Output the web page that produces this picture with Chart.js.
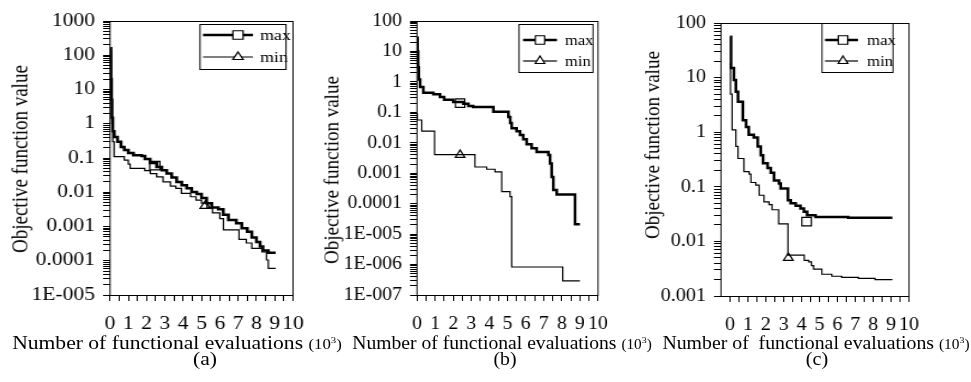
<!DOCTYPE html>
<html>
<head>
<meta charset="utf-8">
<script src="https://cdn.jsdelivr.net/npm/chart.js@4.4.0/dist/chart.umd.min.js"></script>
<style>
  html, body { margin: 0; padding: 0; background: #fff; }
  #wrap { position: relative; width: 971px; height: 382px; overflow: hidden;
          font-family: "Liberation Serif", "Times New Roman", serif; color: #000; }
  canvas { position: absolute; top: 0; height: 382px; }
  .txt { position: absolute; white-space: pre; font-size: 18px; line-height: 1; }
  .yt { font-size: 19px; }
  .sm { font-size: 14px; }
  .sm sup { font-size: 9px; }
</style>
</head>
<body>
<div id="wrap">
  <canvas id="chartA" height="382"></canvas>
  <canvas id="chartB" height="382"></canvas>
  <canvas id="chartC" height="382"></canvas>

  <!-- the source figure is stretched sideways, so the text is too -->
  <div class="txt yt" style="left:20px; top:159px; transform: translate(-50%, -50%) scaleX(1.2) rotate(-90deg)">Objective function value</div>
  <div class="txt yt" style="left:331px; top:170px; transform: translate(-50%, -50%) scaleX(1.1) rotate(-90deg)">Objective function value</div>
  <div class="txt yt" style="left:652px; top:145px; transform: translate(-50%, -50%) scaleX(1.12) rotate(-90deg)">Objective function value</div>

  <div class="txt" style="left:177px; top:343px; transform: translate(-50%, -50%) scaleX(1.2)">Number of functional evaluations <span class="sm">(10<sup>3</sup>)</span></div>
  <div class="txt" style="left:502px; top:343px; transform: translate(-50%, -50%) scaleX(1.09)">Number of functional evaluations <span class="sm">(10<sup>3</sup>)</span></div>
  <div class="txt" style="left:816px; top:343px; transform: translate(-50%, -50%) scaleX(1.1)">Number of  functional evaluations <span class="sm">(10<sup>3</sup>)</span></div>

  <div class="txt" style="left:205px; top:359px; transform: translate(-50%, -50%) scaleX(1.2)">(a)</div>
  <div class="txt" style="left:505px; top:359px; transform: translate(-50%, -50%) scaleX(1.1)">(b)</div>
  <div class="txt" style="left:817px; top:359px; transform: translate(-50%, -50%) scaleX(1.12)">(c)</div>
</div>

<script>
// x axis labels (thousands of evaluations), minor ticks at the halves
const xTickLabels = ['0', '1', '2', '3', '4', '5', '6', '7', '8', '9', '10'];

// y axis decades and their labels
const yMajorA = [1e-5, 1e-4, 1e-3, 0.01, 0.1, 1, 10, 100, 1000];
const yLabelsA = ['1E-005', '0.0001', '0.001', '0.01', '0.1', '1', '10', '100', '1000'];
const yMajorB = [1e-7, 1e-6, 1e-5, 1e-4, 1e-3, 0.01, 0.1, 1, 10, 100];
const yLabelsB = ['1E-007', '1E-006', '1E-005', '0.0001', '0.001', '0.01', '0.1', '1', '10', '100'];
const yMajorC = [0.001, 0.01, 0.1, 1, 10, 100];
const yLabelsC = ['0.001', '0.01', '0.1', '1', '10', '100'];

// (a)
const aMaxX = [0.02, 0.05, 0.08, 0.11, 0.15, 0.23, 0.41, 0.6, 0.78, 1.0, 1.28, 1.73, 1.91, 2.19, 2.55, 2.83, 3.1, 3.37, 3.64, 3.92, 4.19, 4.46, 4.74, 5.0, 5.28, 5.56, 5.92, 6.19, 6.47, 6.9, 7.2, 7.5, 7.75, 8.0, 8.2, 8.36, 8.65, 9.05];
const aMaxY = [160, 20, 5, 1.5, 0.6, 0.41, 0.3, 0.21, 0.17, 0.14, 0.12, 0.115, 0.093, 0.072, 0.055, 0.044, 0.035, 0.027, 0.02, 0.016, 0.013, 0.0102, 0.0089, 0.0068, 0.0048, 0.0036, 0.0032, 0.0022, 0.00155, 0.00125, 0.00089, 0.0007, 0.00048, 0.00035, 0.00026, 0.0002, 0.00017, 0.00017];
const aMinX = [0.01, 0.05, 0.1, 0.15, 0.22, 0.78, 1.0, 1.1, 1.9, 2.2, 2.55, 2.9, 3.3, 3.6, 3.9, 4.4, 4.7, 5.0, 5.3, 5.6, 6.0, 6.2, 7.05, 7.45, 7.75, 8.3, 8.55, 8.65, 9.05];
const aMinY = [120, 10, 1, 0.3, 0.11, 0.087, 0.066, 0.05, 0.043, 0.035, 0.028, 0.02, 0.015, 0.013, 0.0093, 0.0074, 0.0059, 0.0048, 0.0035, 0.0025, 0.0017, 0.0008, 0.00042, 0.00033, 0.00023, 0.00018, 0.000105, 0.00006, 0.00006];
const aMaxMark = [2.45, 0.06];
const aMinMark = [5.2, 0.004];

// (b)
const bMaxX = [0.0, 0.03, 0.06, 0.1, 0.17, 0.35, 0.9, 1.27, 1.5, 2.0, 2.56, 2.84, 3.1, 4.22, 5.05, 5.15, 5.23, 5.5, 5.69, 5.87, 6.06, 6.33, 6.61, 7.26, 7.35, 7.44, 7.53, 7.72, 8.73, 9.0];
const bMaxY = [28, 10, 3, 1.2, 0.68, 0.44, 0.39, 0.32, 0.26, 0.22, 0.19, 0.16, 0.15, 0.105, 0.07, 0.045, 0.03, 0.024, 0.018, 0.013, 0.009, 0.0066, 0.005, 0.004, 0.0021, 0.00075, 0.00028, 0.0002, 0.000021, 0.000021];
const bMinX = [0.0, 0.02, 0.26, 0.97, 3.2, 3.85, 4.31, 4.68, 5.14, 5.23, 8.05, 9.0];
const bMinY = [0.09, 0.056, 0.024, 0.0041, 0.0016, 0.00135, 0.0011, 0.00025, 0.00017, 8.3e-7, 2.9e-7, 2.9e-7];
const bMaxMark = [2.38, 0.2];
const bMinMark = [2.38, 0.004];

// (c)
const cMaxX = [0.0, 0.06, 0.22, 0.33, 0.45, 0.72, 0.9, 1.05, 1.33, 1.55, 1.72, 1.85, 2.1, 2.28, 2.46, 2.74, 2.83, 3.24, 3.39, 3.67, 3.94, 4.13, 4.31, 4.78, 6.6, 9.07];
const cMaxY = [56, 15, 9, 5.5, 3.6, 1.66, 1.25, 0.9, 0.8, 0.55, 0.38, 0.27, 0.22, 0.18, 0.13, 0.115, 0.093, 0.057, 0.05, 0.045, 0.04, 0.035, 0.03, 0.028, 0.027, 0.027];
const cMinX = [0.0, 0.03, 0.12, 0.33, 0.45, 0.78, 1.07, 1.17, 1.44, 1.63, 1.9, 2.18, 2.35, 2.72, 3.24, 4.15, 4.4, 4.55, 4.67, 5.13, 5.69, 6.24, 7.17, 8.1, 9.07];
const cMinY = [18, 5, 1.1, 0.55, 0.33, 0.19, 0.17, 0.12, 0.107, 0.07, 0.053, 0.047, 0.038, 0.021, 0.0056, 0.0045, 0.0042, 0.0036, 0.0031, 0.0025, 0.0023, 0.0022, 0.0021, 0.002, 0.002];
const cMaxMark = [4.28, 0.023];
const cMinMark = [3.26, 0.005];

Chart.defaults.font.family = '"Liberation Serif", "Times New Roman", serif';
Chart.defaults.font.size = 18;
Chart.defaults.color = '#000';
Chart.defaults.animation = false;

function toPoints(xs, ys) {
    return xs.map((x, i) => ({ x: x, y: ys[i] }));
}

// box round the plot and a legend inside it
const framePlugin = {
    id: 'frame',
    afterDraw(chart, args, opts) {
        const ctx = chart.ctx;
        const a = chart.chartArea;
        ctx.save();
        ctx.strokeStyle = '#000';
        ctx.lineWidth = 1;
        ctx.strokeRect(a.left, Math.round(a.top) + 0.5, a.right - a.left, Math.round(a.bottom - a.top));

        const b = opts.box;
        ctx.fillStyle = '#fff';
        ctx.fillRect(b.x, b.y, b.w, b.h);
        ctx.strokeRect(b.x, b.y + 0.5, b.w, b.h);
        opts.items.forEach(it => {
            const ds = chart.data.datasets[it.line];
            const mk = chart.data.datasets[it.mark];
            ctx.strokeStyle = '#000';
            ctx.lineWidth = ds.borderWidth;
            ctx.beginPath();
            ctx.moveTo(b.x + opts.lineFrom, it.y);
            ctx.lineTo(b.x + opts.lineTo, it.y);
            ctx.stroke();
            ctx.fillStyle = '#fff';
            ctx.lineWidth = mk.pointBorderWidth;
            Chart.helpers.drawPoint(ctx, {
                pointStyle: mk.pointStyle, radius: mk.pointRadius,
                borderWidth: mk.pointBorderWidth, rotation: 0
            }, b.x + opts.markAt, it.y);
            ctx.fillStyle = '#000';
            ctx.font = '15px "Liberation Serif", "Times New Roman", serif';
            ctx.textBaseline = 'middle';
            ctx.fillText(ds.label, b.x + opts.textAt, it.y + 1);
        });
        ctx.restore();
    }
};

// p.page holds page pixel positions; the canvas is drawn narrower and stretched by p.s
function makePanel(id, p) {
    const g = p.page;
    const s = p.s;
    const canvas = document.getElementById(id);
    const w = Math.round(g.canvasWidth / s);
    canvas.width = w;
    canvas.style.left = g.canvasLeft + 'px';
    canvas.style.width = g.canvasWidth + 'px';
    const k = w / g.canvasWidth;
    const u = px => (px - g.canvasLeft) * k;

    const yTicks = [];
    p.yMajor.forEach((v, i) => {
        if (i < p.yMajor.length - 1) {
            for (let m = 1; m < 10; m++) yTicks.push(m * v);
        } else {
            yTicks.push(v);
        }
    });
    const xTicks = [];
    xTickLabels.forEach((l, i) => {
        xTicks.push(Number(l));
        if (i < xTickLabels.length - 1) xTicks.push(Number(l) + 0.5);
    });

    const lg = p.legend;
    const legendOpts = {
        box: { x: u(lg.left), y: lg.top, w: (lg.right - lg.left) * k, h: lg.bottom - lg.top },
        lineFrom: (lg.lineFrom - lg.left) * k, lineTo: (lg.lineTo - lg.left) * k,
        markAt: (lg.markAt - lg.left) * k, textAt: (lg.textAt - lg.left) * k,
        items: [{ line: 0, mark: 2, y: lg.rows[0] }, { line: 1, mark: 3, y: lg.rows[1] }]
    };

    return new Chart(canvas, {
        type: 'line',
        data: {
            datasets: [
                { label: 'max', data: toPoints(p.maxX, p.maxY), stepped: true,
                  borderColor: '#000', borderWidth: 2.5, pointRadius: 0, fill: false },
                { label: 'min', data: toPoints(p.minX, p.minY), stepped: true,
                  borderColor: '#000', borderWidth: 1.2, pointRadius: 0, fill: false },
                { label: 'max marker', data: [{ x: p.maxMark[0], y: p.maxMark[1] }], showLine: false,
                  pointStyle: 'rect', pointRadius: 6, pointBorderWidth: 1.2,
                  pointBackgroundColor: '#fff', pointBorderColor: '#000' },
                { label: 'min marker', data: [{ x: p.minMark[0], y: p.minMark[1] }], showLine: false,
                  pointStyle: 'triangle', pointRadius: 5, pointBorderWidth: 1.2,
                  pointBackgroundColor: '#fff', pointBorderColor: '#000' }
            ]
        },
        options: {
            responsive: false,
            devicePixelRatio: 1,
            layout: { padding: { left: 0, right: w - u(g.right), top: g.top, bottom: 382 - g.bottom - 40 } },
            plugins: {
                legend: { display: false },
                tooltip: { enabled: false },
                frame: legendOpts
            },
            scales: {
                x: {
                    type: 'linear',
                    min: p.xMin,
                    max: 10,
                    afterBuildTicks: sc => { sc.ticks = xTicks.map(v => ({ value: v })); },
                    afterFit: sc => { sc.height = 40; },
                    ticks: {
                        autoSkip: false, maxRotation: 0, padding: 12,
                        callback: v => Number.isInteger(v) ? String(v) : ''
                    },
                    grid: { drawOnChartArea: false, drawTicks: true, tickLength: 6, color: '#000' },
                    border: { display: false }
                },
                y: {
                    type: 'logarithmic',
                    min: p.yMajor[0],
                    max: p.yMajor[p.yMajor.length - 1],
                    afterBuildTicks: sc => { sc.ticks = yTicks.map(v => ({ value: v })); },
                    afterFit: sc => { sc.width = u(g.left); },
                    ticks: {
                        autoSkip: false, padding: 8 * k,
                        callback: v => {
                            const i = p.yMajor.findIndex(m => Math.abs(Math.log10(m) - Math.log10(v)) < 1e-6);
                            return i >= 0 ? p.yLabels[i] : '';
                        }
                    },
                    grid: { drawOnChartArea: false, drawTicks: true, tickLength: 7 * k, color: '#000' },
                    border: { display: false }
                }
            }
        },
        plugins: [framePlugin]
    });
}

makePanel('chartA', {
    maxX: aMaxX, maxY: aMaxY, minX: aMinX, minY: aMinY, maxMark: aMaxMark, minMark: aMinMark,
    yMajor: yMajorA, yLabels: yLabelsA, xMin: 0, s: 1.2,
    page: { canvasLeft: 0, canvasWidth: 320, left: 110, right: 293, top: 21, bottom: 295 },
    legend: { left: 200, right: 286, top: 24, bottom: 69, lineFrom: 203, lineTo: 253, markAt: 238, textAt: 260, rows: [35, 57] }
});

makePanel('chartB', {
    maxX: bMaxX, maxY: bMaxY, minX: bMinX, minY: bMinY, maxMark: bMaxMark, minMark: bMinMark,
    yMajor: yMajorB, yLabels: yLabelsB, xMin: 0, s: 1.1,
    page: { canvasLeft: 320, canvasWidth: 320, left: 417, right: 598, top: 21, bottom: 295 },
    legend: { left: 519, right: 593, top: 24, bottom: 72, lineFrom: 523, lineTo: 557, markAt: 540, textAt: 565, rows: [40, 61] }
});

makePanel('chartC', {
    maxX: cMaxX, maxY: cMaxY, minX: cMinX, minY: cMinY, maxMark: cMaxMark, minMark: cMinMark,
    yMajor: yMajorC, yLabels: yLabelsC, xMin: -0.5, s: 1.12,
    page: { canvasLeft: 640, canvasWidth: 331, left: 721, right: 909, top: 23, bottom: 296 },
    legend: { left: 822, right: 893, top: 23, bottom: 72, lineFrom: 825, lineTo: 858, markAt: 843, textAt: 867, rows: [40, 61] }
});
</script>
</body>
</html>
